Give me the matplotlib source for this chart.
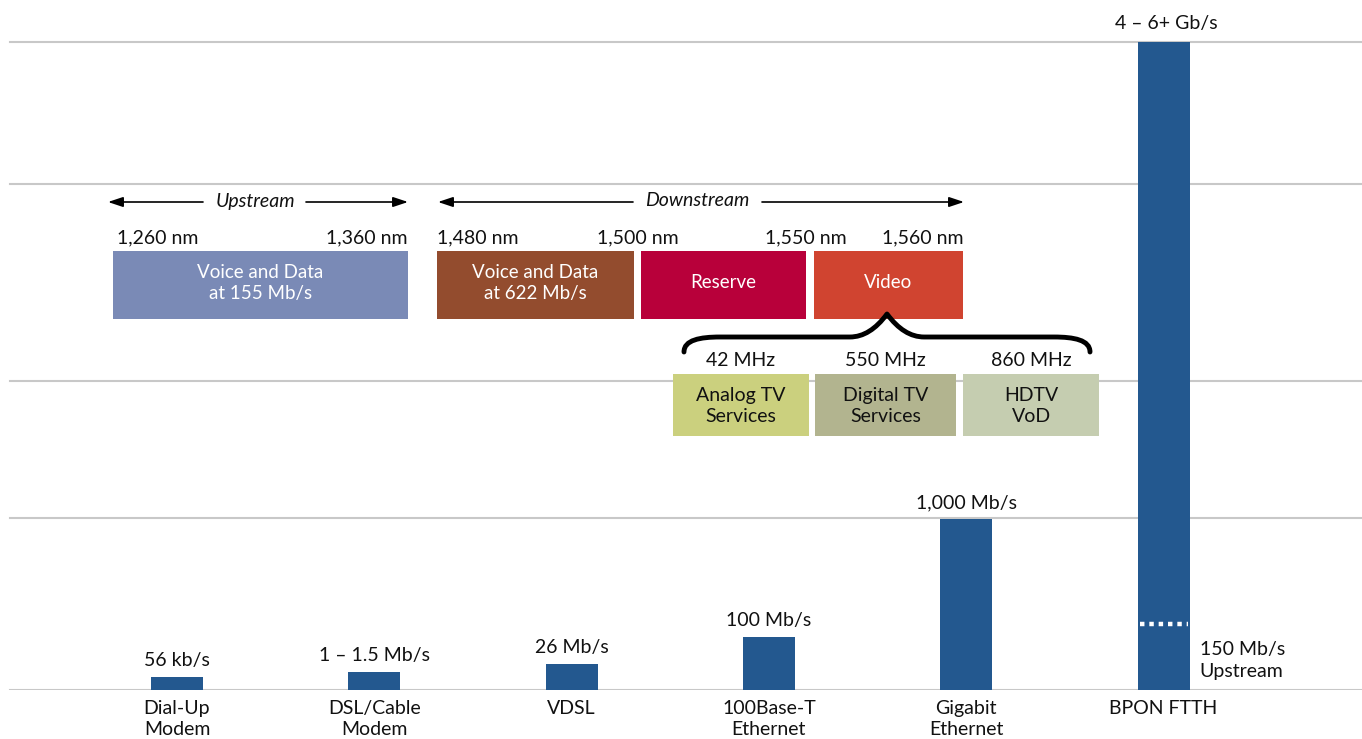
import matplotlib
matplotlib.use("Agg")
import matplotlib.pyplot as plt
from matplotlib.patches import Rectangle, PathPatch, FancyArrowPatch
from matplotlib.path import Path

plt.rcParams['font.family'] = ['Lato', 'DejaVu Sans']

# ---- data ----
categories = ["Dial-Up\nModem", "DSL/Cable\nModem", "VDSL", "100Base-T\nEthernet",
              "Gigabit\nEthernet", "BPON FTTH"]
bar_heights = [13, 18, 26, 53, 171, 648]          # stylised (non-linear) display heights
bar_labels = ["56 kb/s", "1 \u2013 1.5 Mb/s", "26 Mb/s", "100 Mb/s", "1,000 Mb/s", "4 \u2013 6+ Gb/s"]
grid_levels = [0, 172, 309, 506, 648]
upstream_level = 66                                # BPON upstream marker height
upstream_label = "150 Mb/s\nUpstream"

band_labels = ["Voice and Data\nat 155 Mb/s", "Voice and Data\nat 622 Mb/s", "Reserve", "Video"]
band_colors = ["#7A8AB6", "#934C2E", "#B8003A", "#D04430"]
wavelength_labels = ["1,260 nm", "1,360 nm", "1,480 nm", "1,500 nm", "1,550 nm", "1,560 nm"]
video_labels = ["Analog TV\nServices", "Digital TV\nServices", "HDTV\nVoD"]
video_colors = ["#CBD07E", "#B2B48F", "#C5CDB0"]
freq_labels = ["42 MHz", "550 MHz", "860 MHz"]

BAR = "#23588F"
TXT = "#111111"
FS = 14
W, H = 1362, 739

fig = plt.figure(figsize=(W / 100, H / 100), dpi=100)
base_px = 690
ax = fig.add_axes([0, (H - base_px) / H, 1, base_px / H])
spacing = 197.3
x0 = 177
ax.set_xlim(-x0 / spacing, (W - x0) / spacing)
ax.set_ylim(0, base_px)

for g in grid_levels:
    ax.axhline(g, xmin=10 / W, xmax=1, color="#C8C8C8", lw=1.5, zorder=1)

xs = list(range(len(categories)))
ax.bar(xs, bar_heights, width=52 / spacing, color=BAR, zorder=2)
for x, h, lab in zip(xs[:-1], bar_heights[:-1], bar_labels[:-1]):
    ax.text(x, h + 8, lab, ha="center", va="bottom", fontsize=FS, color=TXT)
ax.text(xs[-1] + 0.015, bar_heights[-1] + 10, bar_labels[-1], ha="center", va="bottom",
        fontsize=FS, color=TXT)
# upstream marker in BPON bar
ax.plot([xs[-1] - 24 / spacing, xs[-1] + 24 / spacing], [upstream_level] * 2,
        color="white", lw=3.2, ls=(0, (1, 1.1)), solid_capstyle="butt", zorder=3)
ax.text(xs[-1] + 36 / spacing, upstream_level - 17, upstream_label, ha="left", va="top",
        fontsize=FS, color=TXT, linespacing=1.35)

ax.set_xticks(xs)
ax.set_xticklabels(categories, fontsize=FS, color=TXT, linespacing=1.28)
ax.tick_params(axis="x", length=0, pad=7)
ax.set_yticks([])
for s in ax.spines.values():
    s.set_visible(False)

# ---- overlay diagram (pixel coordinates) ----
ov = fig.add_axes([0, 0, 1, 1], zorder=5)
ov.set_xlim(0, W)
ov.set_ylim(H, 0)
ov.axis("off")
ov.patch.set_alpha(0)

band_x = [(113, 408), (437, 634), (641, 806), (814, 963)]
for (a, b), lab, c in zip(band_x, band_labels, band_colors):
    ov.add_patch(Rectangle((a, 251), b - a, 68, color=c, lw=0))
    ov.text((a + b) / 2, 283, lab, ha="center", va="center", color="white",
            fontsize=13.5, linespacing=1.3)

wl_pos = [(117, "left"), (408, "right"), (437, "left"), (638, "center"),
          (806, "center"), (963, "right")]
for (x, ha), lab in zip(wl_pos, wavelength_labels):
    ov.text(x, 238, lab, ha=ha, va="center", fontsize=FS, color=TXT)

def dir_arrow(x1, x2, tx1, tx2, xc, label):
    for a, b in [(tx1, x1), (tx2, x2)]:
        ov.add_patch(FancyArrowPatch((a, 202), (b, 202), arrowstyle="-|>,head_length=9,head_width=3",
                                     color="black", lw=1.2, mutation_scale=1, shrinkA=0, shrinkB=0))
    ov.text(xc, 201, label, ha="center", va="center", fontsize=FS, style="italic",
            color=TXT)

dir_arrow(108, 408, 203, 306, 255, "Upstream")
dir_arrow(438, 964, 633, 762, 697, "Downstream")

vid_x = [(673, 809), (815, 956), (963, 1099)]
for (a, b), lab, c, f in zip(vid_x, video_labels, video_colors, freq_labels):
    ov.add_patch(Rectangle((a, 374), b - a, 62, color=c, lw=0))
    ov.text((a + b) / 2, 406, lab, ha="center", va="center", color=TXT,
            fontsize=FS, linespacing=1.3)
    ov.text((a + b) / 2, 360, f, ha="center", va="center", color=TXT, fontsize=FS)

# brace
verts = [(684, 352), (684, 340), (700, 337), (720, 337),
         (850, 337), (870, 337), (887, 314),
         (904, 337), (924, 337), (1054, 337),
         (1074, 337), (1090, 340), (1090, 352)]
codes = [Path.MOVETO, Path.CURVE4, Path.CURVE4, Path.CURVE4,
         Path.LINETO, Path.CURVE3, Path.CURVE3,
         Path.CURVE3, Path.CURVE3, Path.LINETO,
         Path.CURVE4, Path.CURVE4, Path.CURVE4]
ov.add_patch(PathPatch(Path(verts, codes), fill=False, lw=3.5, color="black",
                       capstyle="round", joinstyle="round"))

fig.savefig("out.png", dpi=100)
